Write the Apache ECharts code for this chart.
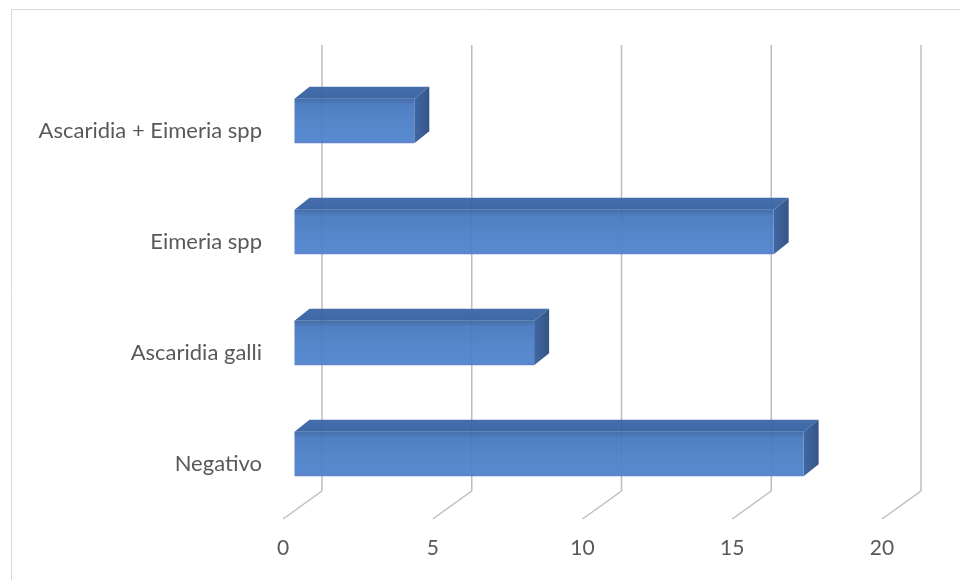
<!DOCTYPE html>
<html>
<head>
<meta charset="utf-8">
<script src="https://cdn.jsdelivr.net/npm/echarts@6/dist/echarts.min.js"></script>
<style>
  html, body { margin: 0; padding: 0; background: #ffffff; }
  #chart { width: 960px; height: 580px; }
</style>
</head>
<body>
<div id="chart"></div>
<script>
// Categories listed bottom-to-top (category axis starts at the bottom)
const categories = ['Negativo', 'Ascaridia galli', 'Eimeria spp', 'Ascaridia + Eimeria spp'];
const counts = [17, 8, 16, 4];
const axisTicks = [0, 5, 10, 15, 20];

const FONT = 'Lato';
const TEXT = '#595959';

// Oblique projection of the 3D box: depth of the back wall and of each bar
const WALL_DX = 39, WALL_DY = -28;   // front floor edge -> back wall
const BAR_OX = 11.5, BAR_OY = -9.5;  // front plane -> bar front face
const BAR_DX = 15, BAR_DY = -12;     // bar front face -> bar back face

const chart = echarts.init(document.getElementById('chart'), null, { renderer: 'canvas' });

function renderGrid(params, api) {
  const cs = params.coordSys;
  const p = api.coord([api.value(0), 0]);
  const x = p[0];
  const bottom = cs.y + cs.height;
  const style = { stroke: '#bdbdbd', lineWidth: 1.5 };
  return {
    type: 'group',
    children: [
      { type: 'line', shape: { x1: x + WALL_DX, y1: cs.y - 30, x2: x + WALL_DX, y2: bottom + WALL_DY }, style: style },
      { type: 'line', shape: { x1: x + WALL_DX, y1: bottom + WALL_DY, x2: x, y2: bottom }, style: style }
    ]
  };
}

function renderBar(params, api) {
  const v = api.value(0);
  const c = api.value(1);
  const p0 = api.coord([0, c]);
  const p1 = api.coord([v, c]);
  const h = api.size([0, 1])[1] * 0.4;
  const x0 = p0[0] + BAR_OX;
  const x1 = p1[0] + BAR_OX;
  const yTop = p0[1] + BAR_OY - h / 2;
  const yBot = yTop + h;
  const front = new echarts.graphic.LinearGradient(0, 0, 0, 1, [
    { offset: 0, color: '#3a64a2' },
    { offset: 0.14, color: '#4577bf' },
    { offset: 0.5, color: '#4a7ec6' },
    { offset: 0.92, color: '#4d82cc' },
    { offset: 1, color: '#5878c8' }
  ]);
  const top = new echarts.graphic.LinearGradient(0, 0, 0, 1, [
    { offset: 0, color: '#3b66a6' },
    { offset: 1, color: '#3460a2' }
  ]);
  const side = new echarts.graphic.LinearGradient(0, 0, 1, 0, [
    { offset: 0, color: '#375f9e' },
    { offset: 1, color: '#2a4c80' }
  ]);
  return {
    type: 'group',
    children: [
      { type: 'polygon', shape: { points: [[x0, yTop], [x0 + BAR_DX, yTop + BAR_DY], [x1 + BAR_DX, yTop + BAR_DY], [x1, yTop]] },
        style: { fill: top, opacity: 0.95 } },
      { type: 'polygon', shape: { points: [[x1, yTop], [x1 + BAR_DX, yTop + BAR_DY], [x1 + BAR_DX, yBot + BAR_DY], [x1, yBot]] },
        style: { fill: side, opacity: 0.95 } },
      { type: 'rect', shape: { x: x0, y: yTop, width: x1 - x0, height: h },
        style: { fill: front, opacity: 0.94 } }
    ]
  };
}

const barData = counts.map((v, i) => [v, i]);
const gridData = axisTicks.map(v => [v, 0]);

chart.setOption({
  animation: false,
  backgroundColor: '#ffffff',
  graphic: [{
    type: 'rect',
    shape: { x: 11.5, y: 9.5, width: 980, height: 600 },
    style: { fill: 'none', stroke: '#d9d9d9', lineWidth: 1 },
    silent: true
  }],
  grid: { left: 283, right: 78, top: 75, bottom: 61 },
  xAxis: {
    type: 'value',
    min: 0,
    max: 20,
    interval: 5,
    axisLine: { show: false },
    axisTick: { show: false },
    splitLine: { show: false },
    axisLabel: { color: TEXT, fontFamily: FONT, fontSize: 21, margin: 19 }
  },
  yAxis: {
    type: 'category',
    data: categories,
    axisLine: { show: false },
    axisTick: { show: false },
    splitLine: { show: false },
    axisLabel: { color: TEXT, fontFamily: FONT, fontSize: 22, margin: 21 }
  },
  series: [
    {
      type: 'custom',
      name: 'grid',
      renderItem: renderGrid,
      data: gridData,
      encode: { x: 0 },
      silent: true,
      z: 1
    },
    {
      type: 'custom',
      name: 'count',
      renderItem: renderBar,
      data: barData,
      encode: { x: 0, y: 1 },
      z: 2
    }
  ]
});
</script>
</body>
</html>
